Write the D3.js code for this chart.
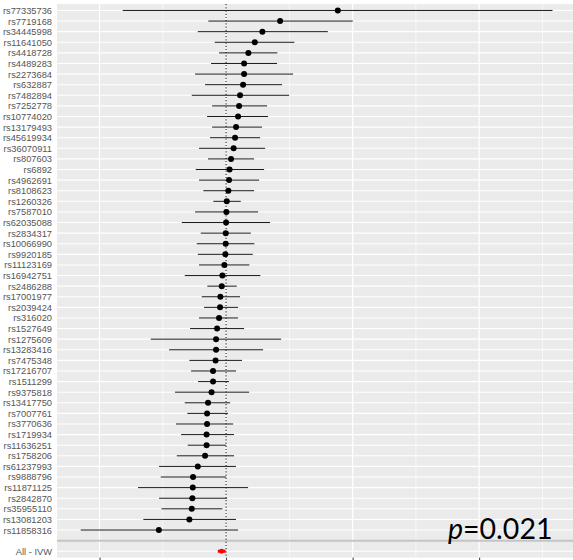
<!DOCTYPE html>
<html>
<head>
<meta charset="utf-8">
<script src="https://cdn.jsdelivr.net/npm/d3@7"></script>
<style>
  html, body { margin: 0; padding: 0; background: #ffffff; }
  svg { display: block; }
</style>
</head>
<body>
<div id="chart"></div>
<script>
// Per-variant causal estimates with 95% confidence intervals
const snps = [
  "rs77335736","rs7719168","rs34445998","rs11641050","rs4418728","rs4489283",
  "rs2273684","rs632887","rs7482894","rs7252778","rs10774020","rs13179493",
  "rs45619934","rs36070911","rs807603","rs6892","rs4962691","rs8108623",
  "rs1260326","rs7587010","rs62035088","rs2834317","rs10066990","rs9920185",
  "rs11123169","rs16942751","rs2486288","rs17001977","rs2039424","rs316020",
  "rs1527649","rs1275609","rs13283416","rs7475348","rs17216707","rs1511299",
  "rs9375818","rs13417750","rs7007761","rs3770636","rs1719934","rs11636251",
  "rs1758206","rs61237993","rs9888796","rs11871125","rs2842870","rs35955110",
  "rs13081203","rs11858316"
];
const estimates = [
  0.1766, 0.0854, 0.0574, 0.0454, 0.0353, 0.0285,
  0.0285, 0.0269, 0.0221, 0.0206, 0.0190, 0.0158,
  0.0142, 0.0119, 0.0079, 0.0055, 0.0047, 0.0036,
  0.0011, 0.0005, 0.0000, -0.0005, -0.0006, -0.0011,
  -0.0027, -0.0058, -0.0068, -0.0090, -0.0095, -0.0111,
  -0.0142, -0.0158, -0.0158, -0.0166, -0.0206, -0.0206,
  -0.0229, -0.0285, -0.0300, -0.0300, -0.0308, -0.0308,
  -0.0332, -0.0447, -0.0522, -0.0526, -0.0533, -0.0542,
  -0.0580, -0.1062
];
const lower = [
  -0.1633, -0.0280, -0.0447, -0.0179, -0.0111, -0.0237,
  -0.0490, -0.0332, -0.0542, -0.0221, -0.0300, -0.0221,
  -0.0253, -0.0427, -0.0285, -0.0479, -0.0427, -0.0359,
  -0.0201, -0.0490, -0.0700, -0.0400, -0.0463, -0.0447,
  -0.0427, -0.0653, -0.0296, -0.0384, -0.0348, -0.0427,
  -0.0569, -0.1191, -0.0901, -0.0580, -0.0553, -0.0443,
  -0.0806, -0.0653, -0.0612, -0.0791, -0.0711, -0.0605,
  -0.0779, -0.1059, -0.1032, -0.1391, -0.1059, -0.1020,
  -0.1307, -0.2297
];
const upper = [
  0.5159, 0.2003, 0.1608, 0.1080, 0.0811, 0.0806,
  0.1059, 0.0885, 0.0996, 0.0648, 0.0664, 0.0569,
  0.0538, 0.0617, 0.0443, 0.0601, 0.0522, 0.0443,
  0.0232, 0.0506, 0.0696, 0.0391, 0.0447, 0.0422,
  0.0368, 0.0542, 0.0169, 0.0221, 0.0190, 0.0190,
  0.0285, 0.0870, 0.0585, 0.0253, 0.0158, 0.0047,
  0.0364, 0.0063, 0.0032, 0.0111, 0.0126, 0.0000,
  0.0126, 0.0158, 0.0000, 0.0348, 0.0016, -0.0058,
  0.0158, 0.0190
];

// Pooled inverse-variance weighted estimate
const ivwLabel = "All - IVW";
const ivwEstimate = -0.0071;
const ivwLower = -0.0131;
const ivwUpper = -0.0008;
const pLabel = "0.021";

const xTicks = [-0.2, 0, 0.2, 0.4];
const xMinor = [-0.1, 0.1, 0.3, 0.5];

const W = 573, H = 560;
const panel = { left: 57, top: 4.1, bottom: 557.6 };

const svg = d3.select("#chart").append("svg")
  .attr("width", W).attr("height", H);

const rows = snps.map((s, i) => ({ snp: s, est: estimates[i], lo: lower[i], hi: upper[i] }));
const gapKey = " ";
const yDomain = snps.concat([gapKey, ivwLabel]);

const y = d3.scalePoint().domain(yDomain)
  .range([panel.top, panel.bottom]).padding(0.6);

const x = d3.scaleLinear().domain([-0.2672, 0.5720]).range([panel.left, 588]);

// Panel background
svg.append("rect")
  .attr("x", panel.left).attr("y", panel.top)
  .attr("width", W - panel.left + 20).attr("height", panel.bottom - panel.top)
  .attr("fill", "#EBEBEB");

const grid = svg.append("g");
// Minor vertical gridlines
grid.selectAll(".vminor").data(xMinor).join("line")
  .attr("x1", d => x(d)).attr("x2", d => x(d))
  .attr("y1", panel.top).attr("y2", panel.bottom)
  .attr("stroke", "#ffffff").attr("stroke-width", 0.6);
// Major vertical gridlines
grid.selectAll(".vmajor").data(xTicks).join("line")
  .attr("x1", d => x(d)).attr("x2", d => x(d))
  .attr("y1", panel.top).attr("y2", panel.bottom)
  .attr("stroke", "#ffffff").attr("stroke-width", 1.2);
// Horizontal gridlines at each row
grid.selectAll(".hmajor").data(yDomain).join("line")
  .attr("x1", panel.left).attr("x2", W + 20)
  .attr("y1", d => y(d)).attr("y2", d => y(d))
  .attr("stroke", "#ffffff").attr("stroke-width", 1.1);

// Separator between individual variants and the pooled estimate
svg.append("line")
  .attr("x1", panel.left).attr("x2", W + 20)
  .attr("y1", y(gapKey)).attr("y2", y(gapKey))
  .attr("stroke", "#C4C4C4").attr("stroke-width", 2);

// Null line
svg.append("line")
  .attr("x1", x(0)).attr("x2", x(0))
  .attr("y1", panel.top).attr("y2", panel.bottom)
  .attr("stroke", "#222222").attr("stroke-width", 1.1)
  .attr("stroke-dasharray", "1.2,2");

// Confidence intervals
svg.append("g").selectAll("line").data(rows).join("line")
  .attr("x1", d => x(d.lo)).attr("x2", d => x(d.hi))
  .attr("y1", d => y(d.snp)).attr("y2", d => y(d.snp))
  .attr("stroke", "#1a1a1a").attr("stroke-width", 1);

// Point estimates
svg.append("g").selectAll("circle").data(rows).join("circle")
  .attr("cx", d => x(d.est)).attr("cy", d => y(d.snp))
  .attr("r", 3).attr("fill", "#000000");

// Pooled estimate in red
svg.append("line")
  .attr("x1", x(ivwLower)).attr("x2", x(ivwUpper))
  .attr("y1", y(ivwLabel)).attr("y2", y(ivwLabel))
  .attr("stroke", "#FF0000").attr("stroke-width", 3);
svg.append("circle")
  .attr("cx", x(ivwEstimate)).attr("cy", y(ivwLabel))
  .attr("r", 2.4).attr("fill", "#FF0000");

// Axes
const yAxis = d3.axisLeft(y).tickSize(0).tickPadding(5)
  .tickFormat(d => d === gapKey ? "" : d);
const gy = svg.append("g").attr("transform", `translate(${panel.left},0)`).call(yAxis);
gy.select(".domain").remove();
gy.selectAll("text")
  .attr("font-family", "'Liberation Sans', Arial, sans-serif")
  .attr("font-size", 9.3).attr("fill", "#555555");

// x-axis ticks only; their labels fall below the visible area
const xAxis = d3.axisBottom(x).tickValues(xTicks).tickSize(3.5).tickFormat("");
const gx = svg.append("g").attr("transform", `translate(0,${panel.bottom})`).call(xAxis);
gx.select(".domain").remove();
gx.selectAll("line").attr("stroke", "#333333").attr("stroke-width", 1);

// P-value annotation
const ptxt = svg.append("text")
  .attr("x", 448).attr("y", 538.5)
  .attr("font-family", "Lato, 'Open Sans', sans-serif")
  .attr("font-size", 28.5).attr("fill", "#000000");
ptxt.append("tspan").attr("font-style", "italic").text("p");
ptxt.append("tspan").text("=" + pLabel);
</script>
</body>
</html>
